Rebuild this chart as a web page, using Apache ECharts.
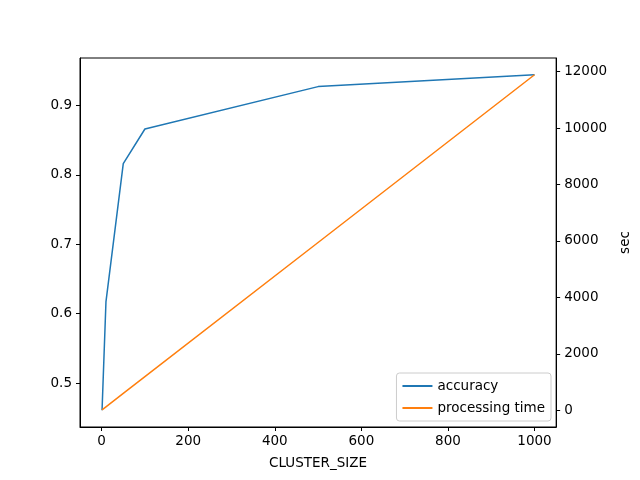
<!DOCTYPE html>
<html><head><meta charset="utf-8">
<script src="https://cdn.jsdelivr.net/npm/echarts@6/dist/echarts.min.js"></script>
<style>html,body{margin:0;padding:0;background:#fff}#c{width:640px;height:480px}</style>
</head><body><div id="c"></div>
<script>
const clusterSizes = [1, 10, 50, 100, 500, 1000];
const accuracy = [0.461, 0.617, 0.816, 0.866, 0.927, 0.944];
const processingTime = [12, 119, 595, 1190, 5945, 11890];
const xTicks = [0, 200, 400, 600, 800, 1000];
const accTicks = [0.5, 0.6, 0.7, 0.8, 0.9];
const timeTicks = [0, 2000, 4000, 6000, 8000, 10000, 12000];

const font = 'DejaVu Sans';
const axisCommon = {
  axisLine: {show: true, onZero: false, lineStyle: {color: '#000', width: 1}},
  axisTick: {show: true, length: 4, lineStyle: {color: '#000'}},
  axisLabel: {color: '#000', fontFamily: font, fontSize: 13.5},
  splitLine: {show: false}
};
const chart = echarts.init(document.getElementById('c'));
chart.setOption({
  animation: false,
  grid: {left: 80, right: 82, top: 58, bottom: 53, show: true, borderColor: '#000', borderWidth: 1},
  xAxis: Object.assign({}, axisCommon, {
    type: 'value', min: -49.95, max: 1049.95,
    name: 'CLUSTER_SIZE', nameLocation: 'middle', nameGap: 29,
    nameTextStyle: {color: '#000', fontFamily: font, fontSize: 13.5},
    axisTick: Object.assign({}, axisCommon.axisTick, {customValues: xTicks}),
    axisLabel: Object.assign({}, axisCommon.axisLabel, {customValues: xTicks, margin: 7, formatter: v => String(v)})
  }),
  yAxis: [
    Object.assign({}, axisCommon, {
      type: 'value', min: 0.4369, max: 0.9682, position: 'left',
      axisTick: Object.assign({}, axisCommon.axisTick, {customValues: accTicks}),
      axisLabel: Object.assign({}, axisCommon.axisLabel, {customValues: accTicks, margin: 8, formatter: v => v.toFixed(1)})
    }),
    Object.assign({}, axisCommon, {
      type: 'value', min: -594, max: 12484, position: 'right',
      name: 'sec', nameLocation: 'middle', nameGap: 60, nameRotate: 90,
      nameTextStyle: {color: '#000', fontFamily: font, fontSize: 13.5},
      axisTick: Object.assign({}, axisCommon.axisTick, {customValues: timeTicks}),
      axisLabel: Object.assign({}, axisCommon.axisLabel, {customValues: timeTicks, margin: 8, formatter: v => String(v)})
    })
  ],
  legend: {
    orient: 'vertical', right: 89, bottom: 59,
    backgroundColor: '#fff', borderColor: '#ccc', borderWidth: 1, borderRadius: 3,
    padding: [6, 6, 6, 6], itemGap: 8, itemWidth: 30, itemHeight: 2,
    textStyle: {color: '#000', fontFamily: font, fontSize: 13.5},
    data: [{name: 'accuracy', icon: 'rect'}, {name: 'processing time', icon: 'rect'}]
  },
  series: [
    {name: 'accuracy', type: 'line', yAxisIndex: 0, showSymbol: false, color: '#1f77b4',
     lineStyle: {width: 1.5}, data: clusterSizes.map((x, i) => [x, accuracy[i]])},
    {name: 'processing time', type: 'line', yAxisIndex: 1, showSymbol: false, color: '#ff7f0e',
     lineStyle: {width: 1.5}, data: clusterSizes.map((x, i) => [x, processingTime[i]])}
  ]
});
</script></body></html>
